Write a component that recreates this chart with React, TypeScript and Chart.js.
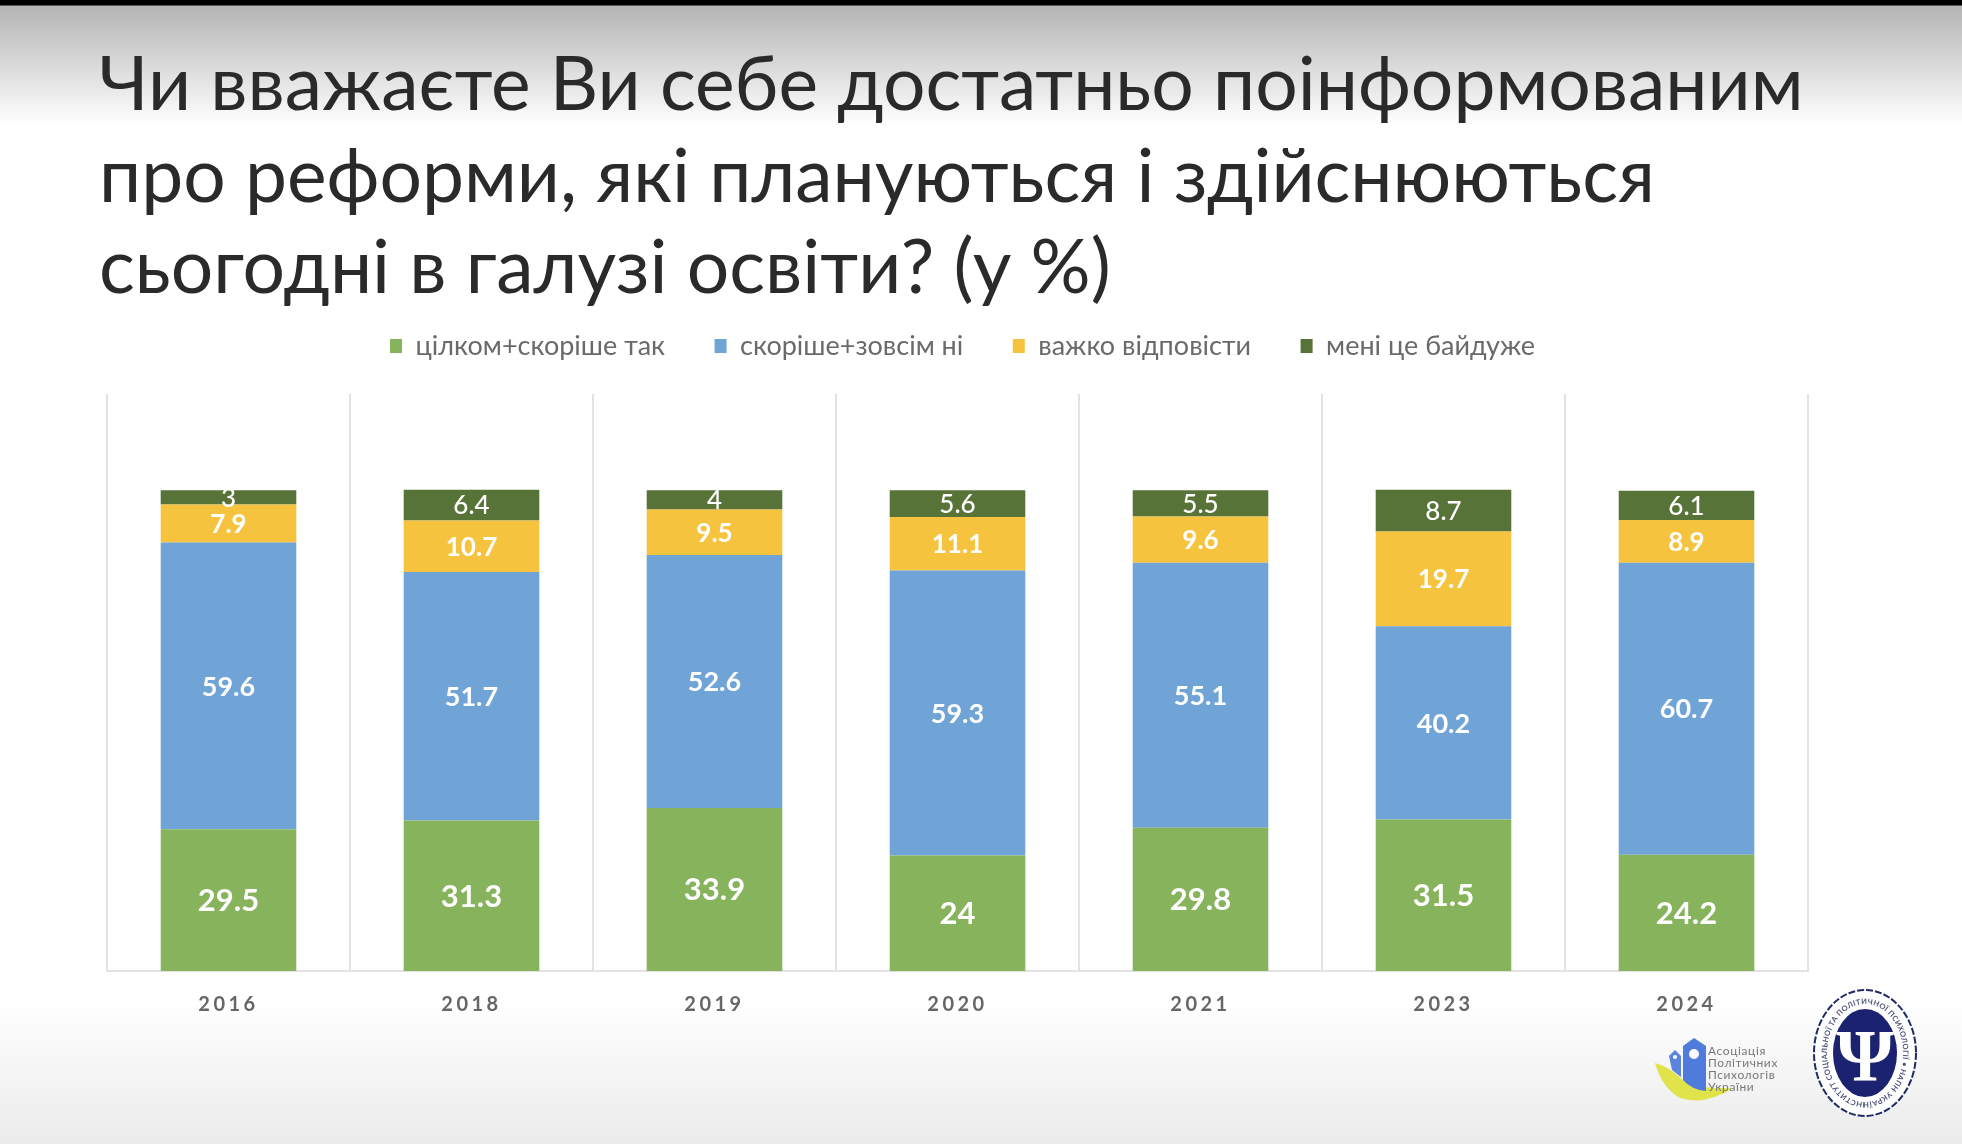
import React, { useEffect, useRef } from "react";
import { Chart, registerables } from "chart.js";

Chart.register(...registerables);

const years = ["2016", "2018", "2019", "2020", "2021", "2023", "2024"];
const fullyOrRatherYes = [29.5, 31.3, 33.9, 24, 29.8, 31.5, 24.2];
const ratherOrNotAtAll = [59.6, 51.7, 52.6, 59.3, 55.1, 40.2, 60.7];
const hardToAnswer = [7.9, 10.7, 9.5, 11.1, 9.6, 19.7, 8.9];
const dontCare = [3, 6.4, 4, 5.6, 5.5, 8.7, 6.1];
const seriesNames = ["цілком+скоріше так", "скоріше+зовсім ні", "важко відповісти", "мені це байдуже"];
const titleLines = [
  "Чи вважаєте Ви себе достатньо поінформованим",
  "про реформи, які плануються і здійснюються",
  "сьогодні в галузі освіти? (у %)",
];
const labelFonts = ["700 31px Lato", "700 27px Lato", "700 26px Lato", "500 26px Lato"];
const FONT = "Lato, 'Open Sans', sans-serif";

const segmentLabels = {
  id: "segmentLabels",
  afterDatasetsDraw(chart: any) {
    const { ctx } = chart;
    ctx.save();
    ctx.textAlign = "center";
    ctx.textBaseline = "middle";
    ctx.fillStyle = "#ffffff";
    chart.data.datasets.forEach((ds: any, i: number) => {
      ctx.font = labelFonts[i];
      chart.getDatasetMeta(i).data.forEach((bar: any, j: number) => {
        const p = bar.getProps(["x", "y", "base"], true);
        ctx.fillText(String(ds.data[j]), p.x, (p.y + p.base) / 2 + 1);
      });
    });
    ctx.restore();
  },
};

const layoutTweaks = {
  id: "layoutTweaks",
  beforeLayout(chart: any) {
    const legend = chart.legend;
    if (legend && !legend.__wrapped) {
      const fit = legend.fit.bind(legend);
      legend.fit = () => {
        fit();
        legend.height = 111;
      };
      legend.__wrapped = true;
    }
  },
  afterLayout(chart: any) {
    chart.legend.left += 5;
    chart.legend.right += 5;
    const x = chart.scales.x;
    if (!x.__spaced) {
      const draw = x.drawLabels;
      x.drawLabels = function (area: any) {
        const c = chart.ctx;
        c.save();
        c.letterSpacing = "3.5px";
        draw.call(x, area);
        c.restore();
      };
      x.__spaced = true;
    }
  },
};

function Logos() {
  return (
    <svg width={1962} height={1144} style={{ position: "absolute", left: 0, top: 0, filter: "blur(0.6px)" }}>
      <defs>
        <path id="sealRing" d="M1865 1102 A38 49 0 1 1 1865.1 1102" fill="none" />
      </defs>
      <path d="M1655 1063 Q1668 1066 1683 1080 Q1700 1090 1733 1088 Q1705 1106 1680 1098 Q1662 1088 1655 1063 Z" fill="#e0e34a" />
      <path d="M1669 1056 L1675 1050 L1681 1056 L1681 1077 L1672 1070 Z" fill="#5b84dc" />
      <path d="M1683 1046 L1694 1038 L1706 1046 L1706 1091 Q1692 1090 1683 1080 Z" fill="#4f7bdc" />
      <circle cx="1694" cy="1054" r="5" fill="#fff" />
      <circle cx="1675" cy="1057" r="2" fill="#fff" />
      <g fontFamily="Lato" fontSize="12" fill="#777" letterSpacing="0.6">
        <text x="1708" y="1055">Асоціація</text>
        <text x="1708" y="1067">Політичних</text>
        <text x="1708" y="1079">Психологів</text>
        <text x="1708" y="1091">України</text>
      </g>
      <ellipse cx="1865" cy="1053" rx="51" ry="63" fill="#fff" stroke="#1f2a66" strokeWidth="2" strokeDasharray="7 2" />
      <ellipse cx="1865" cy="1053" rx="32" ry="44" fill="#1b2270" />
      <text fontFamily="Lato" fontWeight="700" fontSize="7.5" fill="#50557a" letterSpacing="0.3">
        <textPath href="#sealRing">ІНСТИТУТ СОЦІАЛЬНОЇ ТА ПОЛІТИЧНОЇ ПСИХОЛОГІЇ • НАПН УКРАЇНИ •</textPath>
      </text>
      <text x="1865" y="1081" textAnchor="middle" fontFamily="'Liberation Serif'" fontWeight="700" fontSize="74" fill="#fff">Ψ</text>
    </svg>
  );
}

export default function App() {
  const ref = useRef<HTMLCanvasElement>(null);
  useEffect(() => {
    const colors = ["#87b35c", "#70a3d6", "#f5c33e", "#587338"];
    const values = [fullyOrRatherYes, ratherOrNotAtAll, hardToAnswer, dontCare];
    const chart = new Chart(ref.current!, {
      type: "bar",
      data: {
        labels: years,
        datasets: values.map((data, i) => ({
          label: seriesNames[i],
          data,
          backgroundColor: colors[i],
          borderWidth: 0,
          barPercentage: 0.558,
          categoryPercentage: 1,
        })),
      },
      plugins: [segmentLabels, layoutTweaks],
      options: {
        responsive: false,
        animation: false,
        layout: { padding: { left: 107, right: 154, top: 283, bottom: 105 } },
        plugins: {
          title: { display: false },
          tooltip: { enabled: false },
          legend: {
            position: "top",
            labels: {
              boxWidth: 12,
              boxHeight: 14,
              padding: 49.5,
              color: "#6a6a6a",
              font: { family: FONT, size: 27 },
            },
          },
        },
        scales: {
          x: {
            stacked: true,
            grid: { color: "#e3e3e3", lineWidth: 2, drawTicks: false },
            border: { color: "#e3e3e3", width: 2 },
            ticks: {
              color: "#666666",
              padding: 22,
              font: { family: FONT, size: 20, weight: "bold" },
            },
          },
          y: { stacked: true, display: false, min: 0, max: 120 },
        },
      },
    } as any);
    return () => chart.destroy();
  }, []);

  return (
    <div
      style={{
        position: "fixed",
        inset: 0,
        overflow: "hidden",
        background:
          "linear-gradient(to bottom, #000 0, #000 5px, #b4b4b4 6px, #ffffff 125px, #ffffff 1000px, #ebebeb 1144px)",
      }}
    >
      <div
        style={{
          position: "absolute",
          left: 99,
          top: 36,
          fontFamily: FONT,
          fontSize: 75,
          lineHeight: "91.5px",
          color: "#2a2a2a",
          whiteSpace: "nowrap",
        }}
      >
        {titleLines.map((t) => (
          <div key={t}>{t}</div>
        ))}
      </div>
      <canvas ref={ref} width={1962} height={1144} style={{ position: "absolute", left: 0, top: 0 }} />
      <Logos />
    </div>
  );
}
